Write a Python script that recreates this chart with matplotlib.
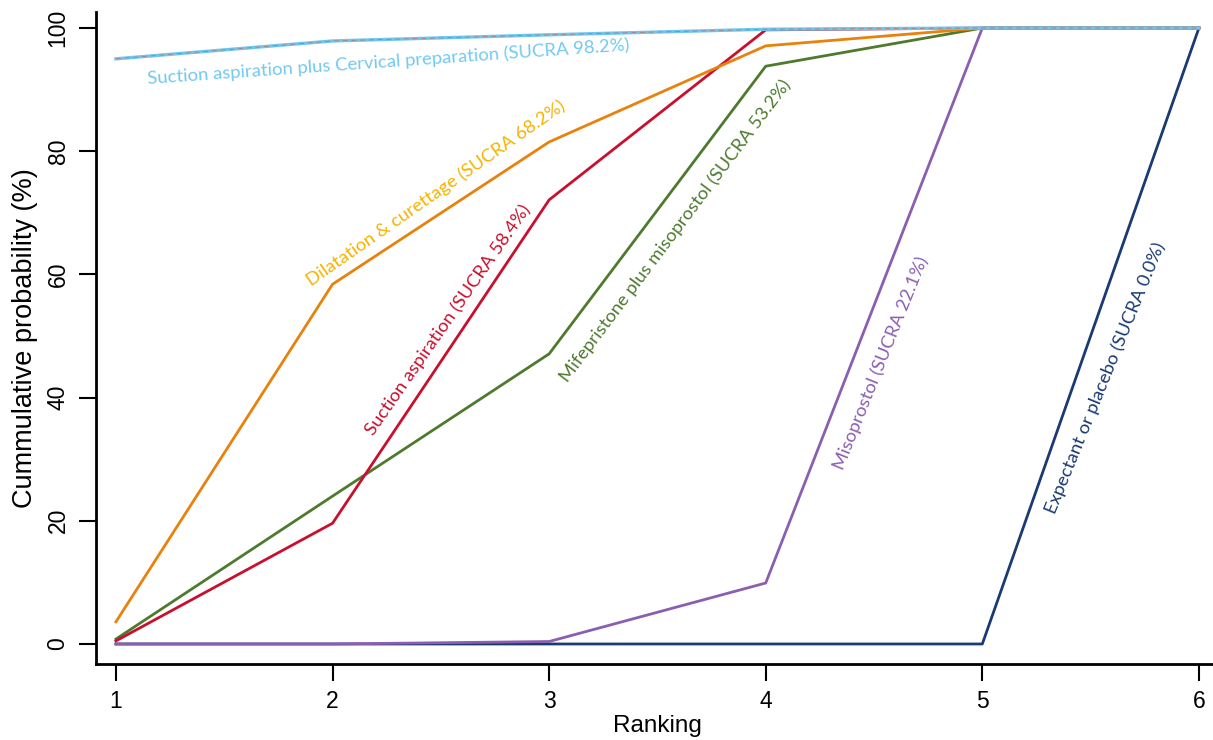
import numpy as np
import matplotlib
matplotlib.use("Agg")
import matplotlib.pyplot as plt

ranks = [1, 2, 3, 4, 5, 6]

# cumulative probabilities (%) per treatment
suction_cervical = [95.0, 97.9, 98.9, 99.8, 100, 100]
dilatation = [3.6, 58.4, 81.5, 97.1, 100, 100]
suction = [0.5, 19.6, 72.1, 99.7, 100, 100]
mife_miso = [0.8, 24.0, 47.1, 93.8, 100, 100]
misoprostol = [0.0, 0.0, 0.4, 9.9, 100, 100]
expectant = [0.0, 0.0, 0.0, 0.0, 0.0, 100]

labels = ["Suction aspiration plus Cervical preparation (SUCRA 98.2%)",
          "Dilatation & curettage (SUCRA 68.2%)",
          "Suction aspiration (SUCRA 58.4%)",
          "Mifepristone plus misoprostol (SUCRA 53.2%)",
          "Misoprostol (SUCRA 22.1%)",
          "Expectant or placebo (SUCRA 0.0%)"]

plt.rcParams['font.family'] = ['Liberation Sans', 'DejaVu Sans']

fig = plt.figure(figsize=(12.13, 7.40), dpi=100)
ax = fig.add_axes([96 / 1213, 76 / 740, 1 - 96 / 1213, (664 - 12) / 740])

lw = 2.0
ax.plot(ranks, expectant, color='#1a3a73', lw=lw)
ax.plot(ranks, misoprostol, color='#8a5fb0', lw=lw)
ax.plot(ranks, mife_miso, color='#4e7a2e', lw=lw)
ax.plot(ranks, suction, color='#c8102e', lw=lw)
ax.plot(ranks, dilatation, color='#e8820c', lw=lw)
ax.plot(ranks, suction_cervical, color='#6ec6f0', lw=2.4)
ax.plot(ranks, suction_cervical, color='#a08888', lw=0.7, dashes=(5, 4))

# rotated line labels
lab_font = ['Lato', 'DejaVu Sans']
fs = 13.3
ax.text(2.260, 94.5, labels[0], color='#72c9ef', rotation=4.0, ha='center', va='center',
        rotation_mode='anchor', fontsize=fs, family=lab_font)
ax.text(2.477, 73.2, labels[1], color='#f5b301', rotation=34.9, ha='center', va='center',
        rotation_mode='anchor', fontsize=fs, family=lab_font)
ax.text(2.533, 52.6, labels[2], color='#c8102e', rotation=55.2, ha='center', va='center',
        rotation_mode='anchor', fontsize=fs, family=lab_font)
ax.text(3.585, 67.0, labels[3], color='#4e7a2e', rotation=53.1, ha='center', va='center',
        rotation_mode='anchor', fontsize=fs, family=lab_font)
ax.text(4.532, 45.6, labels[4], color='#8a5fb0', rotation=68.1, ha='center', va='center',
        rotation_mode='anchor', fontsize=fs, family=lab_font)
ax.text(5.566, 43.2, labels[5], color='#1a3a73', rotation=67.8, ha='center', va='center',
        rotation_mode='anchor', fontsize=fs, family=lab_font)

ax.set_xlim(0.908, 6.065)
ax.set_ylim(-3.25, 102.6)
ax.set_xticks(ranks)
ax.set_yticks([0, 20, 40, 60, 80, 100])
ax.tick_params(axis='both', length=12, width=1.5, labelsize=16.5, pad=7)
for lab in ax.get_yticklabels():
    lab.set_rotation(90)
    lab.set_va('center')
ax.spines['top'].set_visible(False)
ax.spines['right'].set_visible(False)
ax.spines['left'].set_linewidth(2)
ax.spines['bottom'].set_linewidth(2)
fig.text(657 / 1213, 8 / 740, "Ranking", fontsize=17.5, ha='center', va='baseline')
ax.set_ylabel("Cummulative probability (%)", fontsize=19.5, labelpad=6)

fig.savefig("out.png", dpi=100)
